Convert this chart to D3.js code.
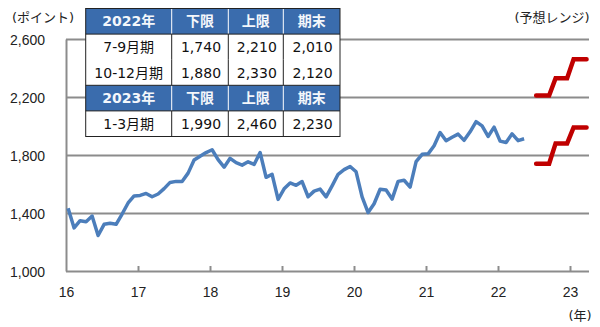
<!DOCTYPE html>
<html lang="ja">
<head>
  <meta charset="UTF-8">
  <script src="https://cdn.jsdelivr.net/npm/d3@7"></script>
  <title>TOPIX</title>
  <style>
    body { margin: 0; background: #fff; }
    svg { display: block; font-family: "DejaVu Sans", "Noto Sans CJK JP", sans-serif; }
    .grid line { stroke: #8c8c8c; stroke-width: 2; }
    .axis text { font-size: 14px; fill: #222; }
  </style>
</head>
<body>
<div id="chart"></div>
<script>
  // monthly closes, Jan 2016 - May 2022
  var topix = [
    1432, 1297, 1347, 1340, 1379, 1245, 1322, 1329, 1322, 1393, 1469, 1518,
    1521, 1535, 1512, 1531, 1568, 1611, 1618, 1617, 1675, 1765, 1792, 1817,
    1836, 1768, 1716, 1777, 1747, 1730, 1753, 1735, 1817, 1646, 1667, 1494,
    1567, 1607, 1591, 1617, 1512, 1551, 1565, 1511, 1587, 1667, 1699, 1721,
    1684, 1511, 1403, 1464, 1564, 1558, 1496, 1618, 1626, 1579, 1754, 1805,
    1808, 1864, 1955, 1898, 1922, 1944, 1901, 1960, 2030, 2001, 1928, 1992,
    1896, 1886, 1946, 1899, 1912
  ];
  var startYear = 16;

  var years = [16, 17, 18, 19, 20, 21, 22, 23];
  var yTicks = [1000, 1400, 1800, 2200, 2600];

  // forecast table
  var tableYears = ["2022年", "2023年"];
  var tableHead = ["下限", "上限", "期末"];
  var quarters = ["7-9月期", "10-12月期", "1-3月期"];
  var lower = [1740, 1880, 1990];
  var upper = [2210, 2330, 2460];
  var closing = [2010, 2120, 2230];
  var quarterStart = [22.5, 22.75, 23.0];

  var width = 600, height = 327;
  var plotL = 66, plotR = 589, plotT = 39, plotB = 271;

  var svg = d3.select("#chart").append("svg")
    .attr("width", width)
    .attr("height", height);

  var x = d3.scaleLinear()
    .domain([16, 16 + (plotR - plotL) / 72 ])
    .range([plotL, plotR]);

  var y = d3.scaleLinear()
    .domain([1000, 2600])
    .range([plotB, plotT]);

  // gridlines
  svg.append("g")
    .attr("class", "grid")
    .attr("transform", "translate(" + plotL + ",0)")
    .call(d3.axisLeft(y).tickValues(yTicks).tickSize(-(plotR - plotL)).tickFormat(""))
    .call(function(g) { g.select(".domain").remove(); });

  // y axis
  svg.append("g")
    .attr("class", "axis")
    .attr("transform", "translate(" + plotL + ",0)")
    .call(d3.axisLeft(y).tickValues(yTicks).tickFormat(d3.format(",")).tickSize(0).tickSizeOuter(0).tickPadding(21))
    .call(function(g) {
      g.select(".domain").attr("stroke", "#8c8c8c").attr("stroke-width", 2);
      g.selectAll("text").attr("dy", "0.4em");
    });

  // x axis ticks (pointing up)
  svg.append("g")
    .attr("transform", "translate(0," + plotB + ")")
    .call(d3.axisTop(x).tickValues(years.slice(1)).tickSize(5).tickSizeOuter(0).tickFormat(""))
    .call(function(g) {
      g.select(".domain").remove();
      g.selectAll("line").attr("stroke", "#8c8c8c").attr("stroke-width", 2);
    });

  svg.append("g")
    .attr("class", "axis")
    .attr("transform", "translate(0," + plotB + ")")
    .call(d3.axisBottom(x).tickValues(years).tickSize(0).tickPadding(16))
    .call(function(g) { g.select(".domain").remove(); });

  // actual line
  var line = d3.line()
    .x(function(d, i) { return x(startYear + (i + 0.35) / 12); })
    .y(function(d) { return y(d); });

  svg.append("path")
    .datum(topix)
    .attr("fill", "none")
    .attr("stroke", "#4c7ebb")
    .attr("stroke-width", 3.5)
    .attr("stroke-linejoin", "round")
    .attr("d", line);

  // forecast range steps
  function steps(vals) {
    var pts = [];
    vals.forEach(function(v, i) {
      pts.push([quarterStart[i] + 0.05, v]);
      pts.push([quarterStart[i] + 0.21, v]);
    });
    pts[0][0] = quarterStart[0] + 0.03;
    pts[pts.length - 1][0] = quarterStart[quarterStart.length - 1] + 0.23;
    return pts;
  }
  var stepLine = d3.line()
    .x(function(d) { return x(d[0]); })
    .y(function(d) { return y(d[1]); });

  [lower, upper].forEach(function(vals) {
    svg.append("path")
      .datum(steps(vals))
      .attr("fill", "none")
      .attr("stroke", "#c00000")
      .attr("stroke-width", 4.5)
      .attr("stroke-linecap", "round")
      .attr("d", stepLine);
  });

  // unit labels
  svg.append("text")
    .attr("x", 43).attr("y", 22)
    .style("text-anchor", "middle")
    .style("font-size", "13px").attr("fill", "#222")
    .text("(ポイント)");

  svg.append("text")
    .attr("x", 552).attr("y", 22)
    .style("text-anchor", "middle")
    .style("font-size", "13px").attr("fill", "#222")
    .text("(予想レンジ)");

  svg.append("text")
    .attr("x", 580).attr("y", 320)
    .style("text-anchor", "middle")
    .style("font-size", "13px").attr("fill", "#222")
    .text("(年)");

  // table
  var colX = [85.7, 171.7, 228.3, 283.3, 340];
  var rowH = 25.6, tableTop = 8.5;
  var rows = [
    { head: true, cells: [tableYears[0]].concat(tableHead) },
    { head: false, cells: [quarters[0], lower[0], upper[0], closing[0]] },
    { head: false, cells: [quarters[1], lower[1], upper[1], closing[1]] },
    { head: true, cells: [tableYears[1]].concat(tableHead) },
    { head: false, cells: [quarters[2], lower[2], upper[2], closing[2]] }
  ];
  var fmt = d3.format(",");

  var tbl = svg.append("g");
  tbl.append("rect")
    .attr("x", colX[0]).attr("y", tableTop)
    .attr("width", colX[4] - colX[0]).attr("height", rowH * rows.length)
    .attr("fill", "#fff");

  rows.forEach(function(r, ri) {
    var ry = tableTop + ri * rowH;
    if (r.head) {
      tbl.append("rect")
        .attr("x", colX[0]).attr("y", ry)
        .attr("width", colX[4] - colX[0]).attr("height", rowH)
        .attr("fill", "#3a6cad");
    }
    r.cells.forEach(function(c, ci) {
      if (ci > 0) {
        tbl.append("line")
          .attr("x1", colX[ci]).attr("x2", colX[ci])
          .attr("y1", ry).attr("y2", ry + rowH)
          .attr("stroke", r.head ? "#ffffff" : "#222")
          .attr("stroke-width", 1);
      }
      tbl.append("text")
        .attr("x", (colX[ci] + colX[ci + 1]) / 2 + (ci > 0 && !r.head ? 1 : 0))
        .attr("y", ry + rowH / 2 + 5)
        .style("text-anchor", "middle")
        .style("font-size", "14px")
        .style("font-weight", r.head ? "bold" : "normal")
        .attr("fill", r.head ? "#f4f7fb" : "#111")
        .text(typeof c === "number" ? fmt(c) : c);
    });
  });

  // borders
  [0, 1, 3, 4].forEach(function(ri) {
    tbl.append("line")
      .attr("x1", colX[0]).attr("x2", colX[4])
      .attr("y1", tableTop + ri * rowH).attr("y2", tableTop + ri * rowH)
      .attr("stroke", "#222").attr("stroke-width", 1);
  });
  tbl.append("rect")
    .attr("x", colX[0]).attr("y", tableTop)
    .attr("width", colX[4] - colX[0]).attr("height", rowH * rows.length)
    .attr("fill", "none")
    .attr("stroke", "#222").attr("stroke-width", 1);
</script>
</body>
</html>
